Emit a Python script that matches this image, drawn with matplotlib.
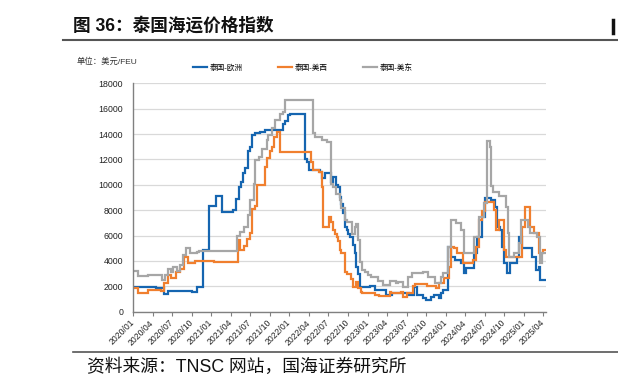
import matplotlib
matplotlib.use("Agg")
import matplotlib.pyplot as plt
from matplotlib.lines import Line2D
import numpy as np

plt.rcParams['font.family'] = ['Liberation Sans', 'Noto Sans CJK SC', 'DejaVu Sans']

# months since 2020/01, value (USD/FEU)
eu = [(0,1950),(3.6,1850),(4.8,1400),(5.4,1650),(9.0,1580),(9.8,1980),(10.7,4900),(11.6,8350),
      (12.8,9150),(13.7,7850),(15.3,8000),(15.8,8900),(16.2,9800),(16.6,10200),(16.9,10900),
      (17.2,11300),(17.6,12700),(17.9,13000),(18.2,13900),(18.7,14050),(19.5,14200),(20.3,14350),
      (23.0,14800),(23.4,15000),(23.8,15500),(24.1,15550),(26.4,12000),(26.7,11800),(27.0,11150),
      (28.7,11000),(29.05,10500),(29.4,10900),(30.4,10250),(30.7,10600),(31.2,10000),(31.5,9850),
      (31.8,9050),(32.0,8500),(32.3,7750),(32.5,6700),(32.8,6450),(33.05,6150),(33.3,5900),
      (33.8,5250),(34.1,4600),(34.3,3550),(34.6,3000),(34.8,1970),(36.4,2050),(37.2,1700),
      (38.9,1300),(39.7,1450),(42.3,1300),(43.2,1950),(43.6,1300),(44.5,1050),(45.0,920),
      (45.7,1180),(46.2,1316),(47.0,1050),(47.3,1450),(47.6,1700),(48.3,5130),(48.8,4340),
      (49.5,4100),(50.3,3800),(50.8,3030),(51.1,3420),(52.3,4600),(52.8,5900),(53.6,7500),
      (54.1,8950),(54.9,8800),(55.6,8290),(55.9,6700),(56.4,6450),(56.7,5130),(56.9,3800),
      (57.4,3030),(57.9,3800),(59.0,4340),(59.2,5920),(59.7,5000),(61.3,4340),(61.8,3290),
      (62.3,3550),(62.5,2500),(63.4,2500)]

usw = [(0,1850),(0.7,1450),(2.3,1700),(4.3,1650),(4.8,2300),(5.3,2900),(5.9,2650),(6.6,3100),
       (7.2,3400),(7.9,4300),(8.5,3800),(9.5,4000),(12.5,3900),(13.5,3950),(16.1,5650),(16.5,4850),
       (17.0,5150),(17.5,5700),(17.9,6200),(18.2,8100),(18.7,8300),(19.0,10000),(20.2,11400),
       (20.5,12100),(21.0,12700),(21.4,13000),(21.7,13800),(22.1,14200),(22.6,12600),(27.3,11800),
       (27.7,11150),(28.6,11000),(29.0,9800),(29.2,6700),(30.1,7450),(30.4,7050),(30.7,6400),
       (31.0,6150),(31.25,5900),(31.5,5600),(31.8,4850),(32.0,4600),(32.5,3150),(32.8,3000),
       (33.4,2600),(33.8,1970),(34.3,2350),(34.6,1850),(35.0,1550),(35.2,1450),(37.1,1300),
       (37.8,1200),(39.4,1550),(39.6,1450),(41.2,1550),(41.5,1180),(42.0,1450),(43.0,2000),
       (43.3,2180),(45.2,2050),(46.5,1840),(47.0,2240),(47.8,2630),(48.5,3550),(48.8,5130),
       (49.3,5000),(49.8,4600),(50.6,3820),(52.2,4080),(52.6,5130),(53.1,7240),(53.6,7900),
       (54.1,8680),(55.4,8030),(55.7,6450),(56.2,7240),(56.9,4870),(57.2,4340),(59.7,6710),
       (60.2,8290),(61.0,6710),(61.5,6180),(62.4,4600),(62.9,4870),(63.4,4870)]

use = [(0,3200),(0.8,2800),(2.3,2900),(4.4,2500),(4.9,2900),(5.4,3400),(5.9,3150),(6.2,3500),
       (6.7,3200),(7.2,3650),(7.7,4450),(8.2,5000),(8.8,4600),(9.8,4700),(10.2,4800),(11.0,4750),
       (13.5,4800),(16.0,6000),(16.5,6300),(17.0,6700),(17.7,7600),(18.0,8800),(18.5,10100),
       (18.8,11950),(19.3,12200),(19.8,12850),(20.5,13500),(20.8,13900),(21.3,14450),(21.8,15100),
       (22.6,15600),(23.0,15750),(23.4,16700),(27.6,14050),(27.9,13780),(29.0,13500),(29.8,13400),
       (30.4,10100),(30.7,9850),(31.2,9300),(31.7,8800),(32.0,8150),(32.5,7200),(32.8,7100),
       (33.6,6150),(34.1,6700),(34.3,6950),(34.6,5650),(34.8,3950),(35.2,3300),(35.6,3150),
       (36.1,2900),(36.6,2750),(37.6,2400),(38.4,2100),(39.4,2400),(40.4,2230),(40.7,2360),
       (41.5,1970),(42.2,2760),(42.9,3030),(44.5,3160),(45.3,2760),(46.3,2240),(47.3,2760),
       (47.6,3030),(48.3,5130),(48.8,7240),(49.6,6970),(50.3,6450),(50.8,4600),(52.3,5920),
       (53.1,7500),(53.9,8550),(54.3,13420),(54.85,13000),(55.0,9870),(55.3,9470),(56.2,9080),
       (57.2,8290),(57.5,6180),(57.7,4340),(58.5,4600),(59.2,5400),(59.5,7240),(60.6,6710),
       (61.0,6180),(62.0,5920),(62.5,3820),(62.8,4600),(63.4,4600)]

series_names = ['泰国-欧洲', '泰国-美西', '泰国-美东']
tick_labels = ['2020/01','2020/04','2020/07','2020/10','2021/01','2021/04','2021/07','2021/10',
               '2022/01','2022/04','2022/07','2022/10','2023/01','2023/04','2023/07','2023/10',
               '2024/01','2024/04','2024/07','2024/10','2025/01','2025/04']
y_ticks = [0, 2000, 4000, 6000, 8000, 10000, 12000, 14000, 16000, 18000]

colors = ['#1565b0', '#f07f2e', '#a6a6a6']

fig = plt.figure(figsize=(6.18, 3.89), dpi=100)
ax = fig.add_axes([133/618, 1-311.7/389, (546-133)/618, (311.7-83.3)/389])

for data, name, c in zip([eu, usw, use], series_names, colors):
    x = [p[0] for p in data]
    y = [p[1] for p in data]
    ax.plot(x, y, color=c, lw=1.6, drawstyle='steps-post', label=name, solid_joinstyle='miter')

ax.set_xlim(0, 63.4)
ax.set_ylim(0, 18000)
ax.set_yticks(y_ticks)
ax.set_yticklabels([str(v) for v in y_ticks], fontsize=6.3, color='#222222')
ax.tick_params(axis='y', length=0, pad=7)
ax.set_xticks(np.arange(len(tick_labels)) * 3)
ax.set_xticklabels(tick_labels, rotation=45, ha='right', va='center',
                   rotation_mode='anchor', fontsize=6.2, color='#222222')
ax.tick_params(axis='x', length=3, width=0.8, color='#808080', pad=4)
ax.grid(axis='y', color='#d9d9d9', lw=0.9)
ax.set_axisbelow(True)
for s in ['top', 'right']:
    ax.spines[s].set_visible(False)
for s in ['left', 'bottom']:
    ax.spines[s].set_color('#808080')
    ax.spines[s].set_linewidth(1.0)

ax.legend(loc='center left', bbox_to_anchor=(193/618, 1-68/389), bbox_transform=fig.transFigure,
          ncol=3, frameon=False, fontsize=5.5, handlelength=1.8, handletextpad=0.4,
          columnspacing=4.6, borderpad=0, borderaxespad=0)

fig.text(77/618, 1-62/389, '单位：美元/FEU', fontsize=6, va='center', ha='left', color='#333333')

fig.text(73/618, 1-25.5/389, '图 36：泰国海运价格指数', fontsize=12.7, fontweight='bold',
         va='center', ha='left', color='#111111')
fig.add_artist(Line2D([63/618, 1.0], [1-40/389, 1-40/389], color='#555555', lw=1.5,
                      transform=fig.transFigure))
fig.add_artist(Line2D([613/618, 613/618], [1-20/389, 1-33/389], color='#111111', lw=2.5,
                      transform=fig.transFigure))
fig.add_artist(Line2D([73/618, 1.0], [1-352/389, 1-352/389], color='#555555', lw=1.2,
                      transform=fig.transFigure))
fig.text(87/618, 1-367/389, '资料来源：TNSC 网站，国海证券研究所', fontsize=12.8,
         va='center', ha='left', color='#111111')

fig.savefig('out.png', dpi=100)
